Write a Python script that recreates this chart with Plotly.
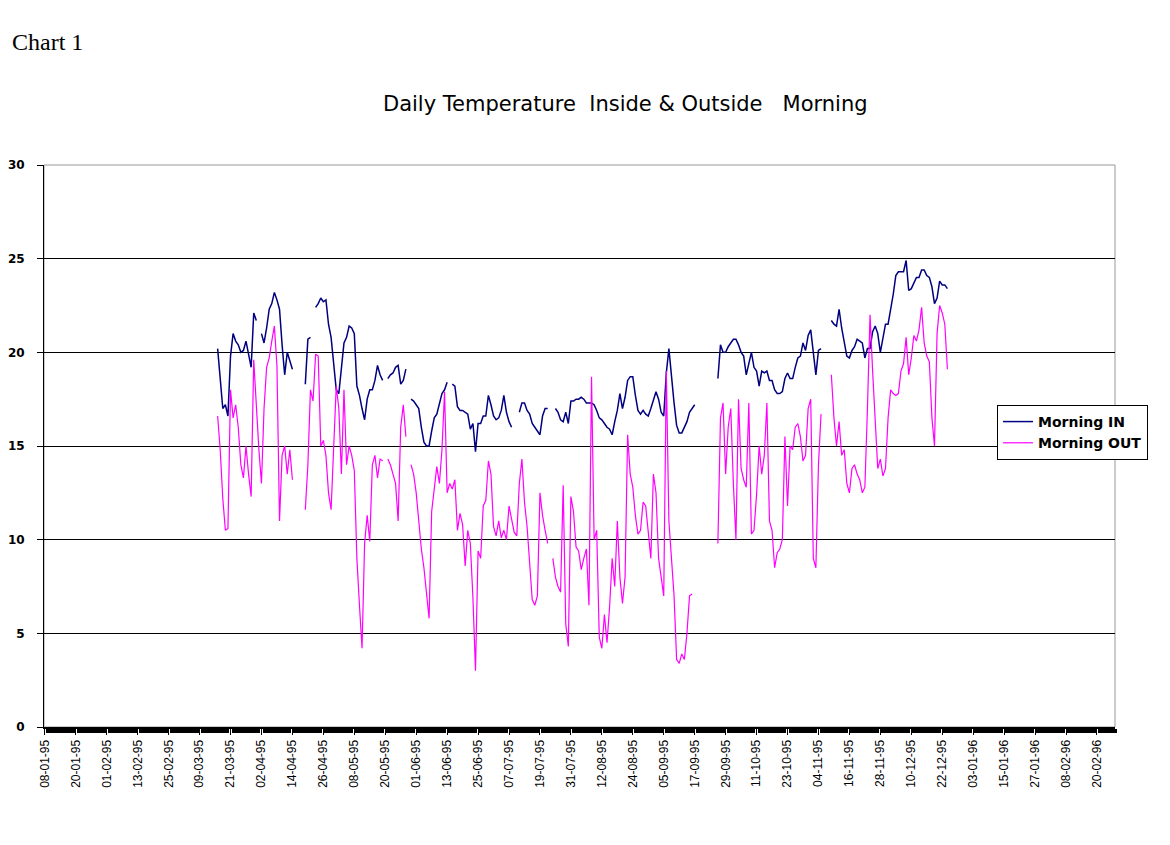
import plotly.graph_objects as go
import pandas as pd

# ---- data ----
series_start = "1995-03-16"      # first day with readings
axis_start = "1995-01-08"        # first category label
tick_step_days = 12

morning_in = [
    20.2, 18.8, 17.0, 17.2, 16.6, 19.8, 21.0, 20.6, 20.4, 20.0,
    20.1, 20.6, 19.8, 19.2, 22.1, 21.7, None, 21.0, 20.5, 21.3,
    22.3, 22.6, 23.2, 22.8, 22.3, 20.4, 18.8, 20.0, 19.6, 19.1,
    None, None, None, None, 18.3, 20.7, 20.8, None, 22.4, 22.6,
    22.9, 22.7, 22.8, 21.5, 20.8, 19.5, 18.0, 17.8, 19.2, 20.5,
    20.8, 21.4, 21.3, 21.0, 18.2, 17.7, 17.0, 16.4, 17.5, 18.0,
    18.0, 18.5, 19.3, 18.8, 18.5, None, 18.6, 18.8, 18.9, 19.2,
    19.3, 18.3, 18.5, 19.1, None, 17.5, 17.4, 17.2, 17.0, 16.0,
    15.2, 15.0, 15.0, 15.8, 16.5, 16.7, 17.3, 17.8, 18.0, 18.4,
    None, 18.3, 18.2, 17.1, 16.9, 16.9, 16.8, 16.7, 15.9, 16.2,
    14.7, 16.2, 16.2, 16.6, 16.6, 17.7, 17.2, 16.6, 16.4, 16.5,
    16.9, 17.7, 16.8, 16.3, 16.0, None, None, 16.8, 17.3, 17.3,
    16.9, 16.7, 16.2, 16.0, 15.8, 15.6, 16.6, 17.0, 17.0, None,
    None, 17.0, 16.8, 16.4, 16.3, 16.8, 16.2, 17.4, 17.4, 17.5,
    17.5, 17.6, 17.5, 17.3, 17.3, 17.3, 17.2, 16.9, 16.5, 16.4,
    16.2, 16.0, 15.9, 15.6, 16.3, 16.9, 17.8, 17.0, 17.6, 18.5,
    18.7, 18.7, 17.7, 16.9, 16.7, 16.9, 16.7, 16.6, 17.0, 17.5,
    17.9, 17.5, 16.8, 16.6, 18.9, 20.2, 18.6, 17.3, 16.1, 15.7,
    15.7, 16.0, 16.3, 16.8, 17.0, 17.2, None, None, None, None,
    None, None, None, None, 18.6, 20.4, 20.0, 20.0, 20.3, 20.5,
    20.7, 20.7, 20.4, 20.0, 19.8, 18.8, 19.4, 20.0, 19.2, 19.0,
    18.2, 19.0, 18.9, 19.0, 18.5, 18.5, 18.0, 17.8, 17.8, 17.9,
    18.6, 18.9, 18.6, 18.6, 19.2, 19.7, 19.8, 20.5, 20.1, 20.9,
    21.2, 19.8, 18.8, 20.1, 20.2, None, None, None, 21.7, 21.5,
    21.4, 22.3, 21.3, 20.5, 19.8, 19.7, 20.1, 20.3, 20.7, 20.6,
    20.5, 19.7, 20.2, 20.2, 21.1, 21.4, 21.0, 20.0, 20.7, 21.5,
    21.5, 22.2, 23.1, 24.1, 24.3, 24.3, 24.3, 24.9, 23.3, 23.4,
    23.7, 24.0, 24.0, 24.4, 24.4, 24.1, 24.0, 23.5, 22.6, 22.9,
    23.8, 23.6, 23.6, 23.4,
]

morning_out = [
    16.6, 14.8, 12.2, 10.5, 10.6, 18.0, 16.5, 17.2, 16.0, 14.0,
    13.3, 15.0, 13.5, 12.3, 19.6, 16.8, 14.8, 13.0, 17.0, 19.2,
    19.7, 20.6, 21.4, 19.3, 11.0, 14.5, 15.0, 13.5, 14.8, 13.2,
    None, None, None, None, 11.6, 14.0, 18.0, 17.4, 19.9, 19.8,
    15.0, 15.3, 14.5, 12.5, 11.6, 15.0, 18.2, 17.0, 13.5, 18.0,
    14.0, 15.0, 14.5, 13.7, 9.0, 6.5, 4.2, 9.8, 11.3, 9.9,
    14.0, 14.5, 13.3, 14.3, 14.2, None, 14.3, 14.0, 13.5, 13.0,
    11.0, 16.0, 17.2, 15.5, None, 14.0, 13.5, 12.5, 11.0, 9.5,
    8.5, 7.3, 5.8, 11.5, 12.8, 13.9, 13.0, 14.8, 17.9, 12.5,
    13.0, 12.7, 13.2, 10.5, 11.4, 10.8, 8.6, 10.5, 9.8, 6.9,
    3.0, 9.4, 9.0, 11.8, 12.1, 14.2, 13.5, 10.7, 10.2, 11.0,
    10.1, 10.5, 10.0, 11.8, 11.1, 10.4, 10.2, 13.0, 14.3, 12.0,
    10.7, 8.8, 6.8, 6.5, 7.0, 12.5, 11.3, 10.5, 9.8, None,
    9.0, 8.0, 7.5, 7.2, 12.9, 5.5, 4.3, 12.3, 11.5, 9.6,
    9.4, 8.4, 9.0, 9.5, 6.5, 18.7, 10.0, 10.5, 4.8, 4.2,
    6.0, 4.5, 6.4, 9.0, 7.5, 11.0, 8.0, 6.6, 8.0, 15.6,
    13.5, 12.8, 11.3, 10.3, 10.5, 12.0, 11.8, 10.3, 9.0, 13.5,
    12.5, 9.0, 8.0, 7.0, 19.0, 11.0, 9.0, 7.0, 3.6, 3.4,
    3.9, 3.6, 5.0, 7.0, 7.1, None, None, None, None, None,
    None, None, None, None, 9.8, 16.5, 17.3, 13.5, 16.0, 17.0,
    13.0, 10.0, 17.5, 13.8, 13.2, 12.8, 17.3, 10.3, 10.5, 12.4,
    15.0, 13.5, 14.5, 17.3, 11.0, 10.5, 8.5, 9.3, 9.5, 10.0,
    15.5, 11.8, 15.0, 14.8, 16.0, 16.2, 15.5, 14.2, 14.5, 17.0,
    17.5, 9.0, 8.5, 14.0, 16.7, None, None, None, 18.8, 16.5,
    15.0, 16.3, 14.5, 14.8, 13.0, 12.5, 13.8, 14.0, 13.5, 13.2,
    12.5, 12.8, 17.0, 22.0, 19.0, 16.0, 13.8, 14.3, 13.4, 13.8,
    16.5, 18.0, 17.8, 17.7, 17.8, 19.0, 19.4, 20.8, 18.8, 19.7,
    20.9, 20.6, 21.2, 22.4, 20.5, 19.8, 19.5, 16.5, 15.0, 21.0,
    22.5, 22.1, 21.5, 19.1,
]

series_names = ["Morning IN", "Morning OUT"]
series_colors = ["#000080", "#FF00FF"]

dates = pd.date_range(series_start, periods=len(morning_in), freq="D")
day0 = pd.Timestamp(axis_start)
x_range = [day0 - pd.Timedelta(hours=8), day0 + pd.Timedelta(days=415)]

fig = go.Figure()
fig.add_trace(go.Scatter(x=dates, y=morning_in, mode="lines", name=series_names[0],
                         line=dict(color=series_colors[0], width=1.5), connectgaps=False))
fig.add_trace(go.Scatter(x=dates, y=morning_out, mode="lines", name=series_names[1],
                         line=dict(color=series_colors[1], width=1.2), connectgaps=False))

fig.update_layout(
    width=1170, height=845,
    margin=dict(l=36, r=63, t=157, b=126, autoexpand=False),
    paper_bgcolor="white", plot_bgcolor="white",
    font=dict(family="Liberation Sans, Arial, sans-serif", color="black", size=11),
    showlegend=True,
    legend=dict(x=0.8898, y=0.573, xanchor="left", yanchor="top",
                bgcolor="white", bordercolor="black", borderwidth=1,
                font=dict(size=14, family="DejaVu Sans, sans-serif", weight="bold"),
                itemwidth=30, tracegroupgap=0),
    annotations=[
        dict(text="Chart 1", xref="paper", yref="paper", x=-0.0317, y=1.219,
             xanchor="left", yanchor="middle", showarrow=False,
             font=dict(family="Liberation Serif, Times New Roman, serif", size=24, color="black")),
        dict(text="Daily Temperature  Inside &amp; Outside   Morning", xref="paper", yref="paper",
             x=0.5425, y=1.1085, xanchor="center", yanchor="middle", showarrow=False,
             font=dict(family="DejaVu Sans, sans-serif", size=21, color="black")),
    ],
    shapes=[dict(type="rect", xref="paper", yref="paper", x0=0, y0=0, x1=1, y1=1,
                 line=dict(color="#999999", width=1), layer="below")],
)

fig.update_yaxes(range=[0, 30], dtick=5, tick0=0, showgrid=True, gridcolor="black", gridwidth=1,
                 showline=True, linecolor="black", linewidth=1, ticks="outside", ticklen=6,
                 tickcolor="black", zeroline=False, ticklabelstandoff=10, automargin=False,
                 tickfont=dict(size=12, family="DejaVu Sans, sans-serif", weight="bold"))
fig.update_xaxes(type="date", range=x_range, tick0=day0, dtick=tick_step_days * 86400000,
                 tickformat="%d-%m-%y", tickangle=-90, showgrid=False, automargin=False,
                 showline=True, linecolor="black", linewidth=2,
                 ticks="outside", ticklen=6, tickcolor="black", tickwidth=1,
                 minor=dict(dtick=86400000, ticks="outside", ticklen=4, tickcolor="black", tickwidth=3),
                 tickfont=dict(size=12, family="Liberation Sans, Arial, sans-serif"))

fig.write_html("out.html")
